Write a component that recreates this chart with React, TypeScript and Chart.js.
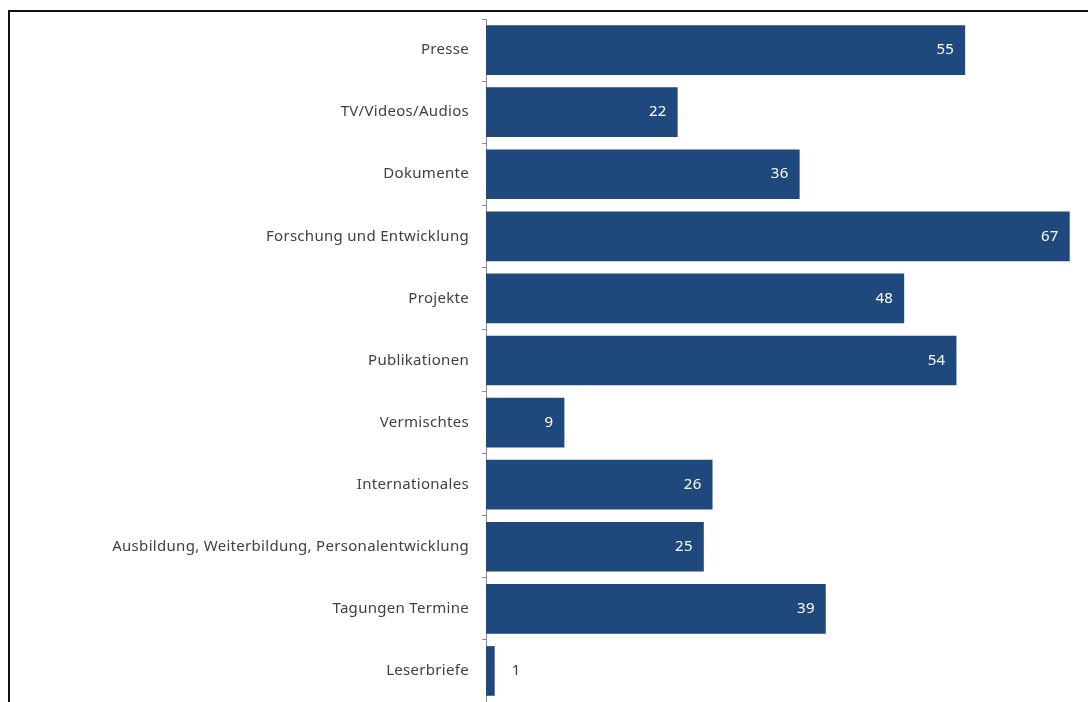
import React, { useEffect, useRef } from "react";
import { Chart, registerables } from "chart.js";

Chart.register(...registerables);

const categories = [
  "Presse",
  "TV/Videos/Audios",
  "Dokumente",
  "Forschung und Entwicklung",
  "Projekte",
  "Publikationen",
  "Vermischtes",
  "Internationales",
  "Ausbildung, Weiterbildung, Personalentwicklung",
  "Tagungen Termine",
  "Leserbriefe",
];

const values = [55, 22, 36, 67, 48, 54, 9, 26, 25, 39, 1];

const FONT = "'Noto Sans', 'Open Sans', sans-serif";

const framePlugin = {
  id: "frame",
  beforeDraw(chart: any) {
    (chart.ctx as any).letterSpacing = "0.3px";
  },
  afterDraw(chart: any) {
    const ctx = chart.ctx;
    ctx.save();
    ctx.fillStyle = "#111111";
    ctx.fillRect(8, 10, 1080, 2);
    ctx.fillRect(8, 10, 2, 692);
    ctx.restore();
  },
};

const valueLabelPlugin = {
  id: "valueLabels",
  afterDatasetsDraw(chart: any) {
    const ctx = chart.ctx;
    const meta = chart.getDatasetMeta(0);
    ctx.save();
    ctx.font = `15px ${FONT}`;
    ctx.textBaseline = "middle";
    meta.data.forEach((bar: any, i: number) => {
      const v = values[i];
      const w = bar.x - bar.base;
      const text = String(v);
      if (w > 30) {
        ctx.fillStyle = "#ffffff";
        ctx.textAlign = "right";
        ctx.fillText(text, bar.x - 11, bar.y);
      } else {
        ctx.fillStyle = "#404040";
        ctx.textAlign = "left";
        ctx.fillText(text, bar.x + 17, bar.y);
      }
    });
    ctx.restore();
  },
};

export default function App() {
  const ref = useRef<HTMLCanvasElement | null>(null);

  useEffect(() => {
    if (!ref.current) return;
    const chart = new Chart(ref.current, {
      type: "bar",
      data: {
        labels: categories,
        datasets: [
          {
            data: values,
            backgroundColor: "#1F497D",
            borderWidth: 0,
            barPercentage: 0.8,
            categoryPercentage: 1,
          },
        ],
      },
      options: {
        indexAxis: "y",
        animation: false,
        responsive: false,
        devicePixelRatio: 1,
        layout: { padding: { top: 19, bottom: 0, left: 0, right: 0 } },
        plugins: {
          legend: { display: false },
          tooltip: { enabled: false },
        },
        scales: {
          x: {
            display: false,
            min: 0,
            max: 69.1,
          },
          y: {
            afterFit(scale: any) {
              scale.width = 486;
              scale.paddingTop = 0;
              scale.paddingBottom = 0;
            },
            grid: {
              offset: true,
              drawOnChartArea: false,
              drawTicks: true,
              tickLength: 4,
              color: "#8c8c8c",
            },
            border: { display: true, color: "#8c8c8c", width: 1 },
            ticks: {
              color: "#404040",
              padding: 13,
              font: { family: FONT, size: 15 },
            },
          },
        },
      },
      plugins: [framePlugin, valueLabelPlugin],
    });
    return () => chart.destroy();
  }, []);

  return (
    <div style={{ position: "fixed", left: 0, top: 0, width: 1088, height: 702, overflow: "hidden", background: "#fff" }}>
      <canvas ref={ref} width={1088} height={702} style={{ display: "block" }} />
    </div>
  );
}
